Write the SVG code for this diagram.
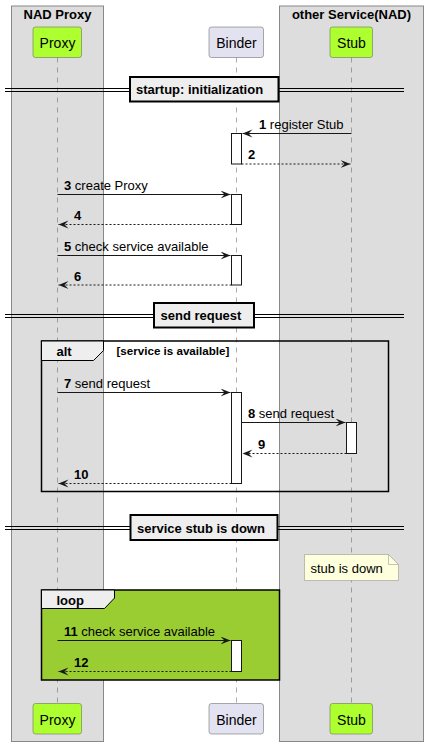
<svg xmlns="http://www.w3.org/2000/svg" width="428" height="746" viewBox="0 0 428 746">
<style>
text{font-family:"Liberation Sans",Arial,sans-serif;fill:#000}
.t{font-size:13px}
.b{font-weight:bold}
.pn{font-size:14px;text-anchor:middle}
.box{fill:#DDDDDD;stroke:#888888;stroke-width:1}
.pg{fill:#ADFF2F;stroke:#5a5a5a;stroke-width:0.5}
.pb{fill:#E2E2F0;stroke:#5a5a5a;stroke-width:0.5}
.life{stroke:#5a5a5a;stroke-width:0.5;stroke-dasharray:5,5}
.act{fill:#FFFFFF;stroke:#181818;stroke-width:1}
.msg{stroke:#181818;stroke-width:1;fill:none}
.ret{stroke:#181818;stroke-width:1;fill:none;stroke-dasharray:2,2}
.dl{stroke:#000;stroke-width:1}
.db{fill:#EEEEEE;stroke:#000;stroke-width:2}
.frame{stroke:#000;stroke-width:1.5}
.tab{fill:#EEEEEE;stroke:#000;stroke-width:1}
</style>
<defs>
<marker id="ah" markerWidth="12" markerHeight="10" refX="10" refY="4" orient="auto" markerUnits="userSpaceOnUse">
<polygon points="0,0 10,4 0,8 4,4" fill="#181818"/>
</marker>
</defs>

<g id="box-nad-proxy">
<rect class="box" x="11.5" y="6" width="92" height="735.5"/>
<text class="t b" x="57.5" y="19" text-anchor="middle">NAD Proxy</text>
</g>
<g id="box-other-service">
<rect class="box" x="279.5" y="6" width="144" height="735.5"/>
<text class="t b" x="351.5" y="19" text-anchor="middle">other Service(NAD)</text>
</g>

<g id="lifelines">
<line class="life" x1="57.5" y1="57.5" x2="57.5" y2="703"/>
<line class="life" x1="236.5" y1="57.5" x2="236.5" y2="703"/>
<line class="life" x1="351.5" y1="57.5" x2="351.5" y2="703"/>
</g>

<g id="divider-startup">
<line class="dl" x1="5" y1="88.5" x2="404" y2="88.5"/>
<line class="dl" x1="5" y1="91.5" x2="404" y2="91.5"/>
<rect class="db" x="130" y="77" width="148.5" height="24.5"/>
<text class="t b" x="136" y="94">startup: initialization</text>
</g>
<g id="divider-send">
<line class="dl" x1="5" y1="314.5" x2="404" y2="314.5"/>
<line class="dl" x1="5" y1="317.5" x2="404" y2="317.5"/>
<rect class="db" x="154" y="303" width="100" height="24.5"/>
<text class="t b" x="160.5" y="320">send request</text>
</g>
<g id="divider-down">
<line class="dl" x1="5" y1="526.5" x2="404" y2="526.5"/>
<line class="dl" x1="5" y1="529.5" x2="404" y2="529.5"/>
<rect class="db" x="130.5" y="515" width="147" height="25"/>
<text class="t b" x="137" y="532.5">service stub is down</text>
</g>

<g id="alt-frame">
<rect class="frame" x="41.5" y="341" width="347" height="150.5" fill="none"/>
<polygon class="tab" points="41.5,341 103.5,341 103.5,350.5 93.5,360.5 41.5,360.5"/>
<text class="t b" x="56.5" y="355.5">alt</text>
<text class="b" x="116.5" y="354.5" style="font-size:11.6px">[service is available]</text>
</g>

<g id="loop-frame">
<rect class="frame" x="41.5" y="590" width="238" height="90" fill="#9ACD32"/>
<polygon class="tab" points="41.5,590 114.5,590 114.5,598 104.5,608.5 41.5,608.5"/>
<text class="t b" x="56.5" y="604.5">loop</text>
</g>

<g id="note-stub-down">
<path d="M304.5,554.5 H388.5 L398.5,564.5 V580.5 H304.5 Z" fill="#FEFFDD" stroke="#888888" stroke-width="0.5"/>
<path d="M388.5,554.5 V564.5 H398.5" fill="none" stroke="#888888" stroke-width="0.5"/>
<text class="t" x="310.5" y="573">stub is down</text>
</g>

<g id="activations">
<rect class="act" x="231.5" y="133.5" width="10" height="30.5"/>
<rect class="act" x="231.5" y="194.5" width="10" height="30"/>
<rect class="act" x="231.5" y="255.5" width="10" height="29.5"/>
<rect class="act" x="231.5" y="392.5" width="10" height="91"/>
<rect class="act" x="346.5" y="422.5" width="10" height="31"/>
<rect class="act" x="231.5" y="640.5" width="10" height="31"/>
</g>

<g id="connectors">
<line class="msg" x1="351.5" y1="133.5" x2="242.5" y2="133.5" marker-end="url(#ah)"/>
<text class="t" x="259" y="129"><tspan class="b">1</tspan> register Stub</text>
<line class="ret" x1="241.5" y1="164" x2="350.5" y2="164" marker-end="url(#ah)"/>
<text class="t b" x="248" y="159">2</text>

<line class="msg" x1="57.5" y1="194.5" x2="230.5" y2="194.5" marker-end="url(#ah)"/>
<text class="t" x="64" y="190"><tspan class="b">3</tspan> create Proxy</text>
<line class="ret" x1="231.5" y1="224.5" x2="58.5" y2="224.5" marker-end="url(#ah)"/>
<text class="t b" x="74" y="220">4</text>

<line class="msg" x1="57.5" y1="255.5" x2="230.5" y2="255.5" marker-end="url(#ah)"/>
<text class="t" x="64" y="251"><tspan class="b">5</tspan> check service available</text>
<line class="ret" x1="231.5" y1="285" x2="58.5" y2="285" marker-end="url(#ah)"/>
<text class="t b" x="74" y="281">6</text>

<line class="msg" x1="57.5" y1="392.5" x2="230.5" y2="392.5" marker-end="url(#ah)"/>
<text class="t" x="64" y="388"><tspan class="b">7</tspan> send request</text>
<line class="msg" x1="241.5" y1="422.5" x2="345.5" y2="422.5" marker-end="url(#ah)"/>
<text class="t" x="248" y="418"><tspan class="b">8</tspan> send request</text>
<line class="ret" x1="346.5" y1="453.5" x2="242.5" y2="453.5" marker-end="url(#ah)"/>
<text class="t b" x="258" y="449">9</text>
<line class="ret" x1="231.5" y1="483.5" x2="58.5" y2="483.5" marker-end="url(#ah)"/>
<text class="t b" x="74" y="479">10</text>

<line class="msg" x1="57.5" y1="640.5" x2="230.5" y2="640.5" marker-end="url(#ah)"/>
<text class="t" x="64" y="636"><tspan class="b">11</tspan> check service available</text>
<line class="ret" x1="231.5" y1="671.5" x2="58.5" y2="671.5" marker-end="url(#ah)"/>
<text class="t b" x="74" y="667">12</text>
</g>

<g id="proxy-top">
<rect class="pg" x="33" y="27" width="48.5" height="30.5" rx="2.5"/>
<text class="pn" x="57.5" y="48">Proxy</text>
</g>
<g id="binder-top">
<rect class="pb" x="209" y="27" width="54.5" height="30.5" rx="2.5"/>
<text class="pn" x="236.5" y="48">Binder</text>
</g>
<g id="stub-top">
<rect class="pg" x="330" y="27" width="42.5" height="30.5" rx="2.5"/>
<text class="pn" x="351.5" y="48">Stub</text>
</g>
<g id="proxy-bottom">
<rect class="pg" x="33" y="703.5" width="48.5" height="30.5" rx="2.5"/>
<text class="pn" x="57.5" y="724.5">Proxy</text>
</g>
<g id="binder-bottom">
<rect class="pb" x="209" y="703.5" width="54.5" height="30.5" rx="2.5"/>
<text class="pn" x="236.5" y="724.5">Binder</text>
</g>
<g id="stub-bottom">
<rect class="pg" x="330" y="703.5" width="42.5" height="30.5" rx="2.5"/>
<text class="pn" x="351.5" y="724.5">Stub</text>
</g>
</svg>
